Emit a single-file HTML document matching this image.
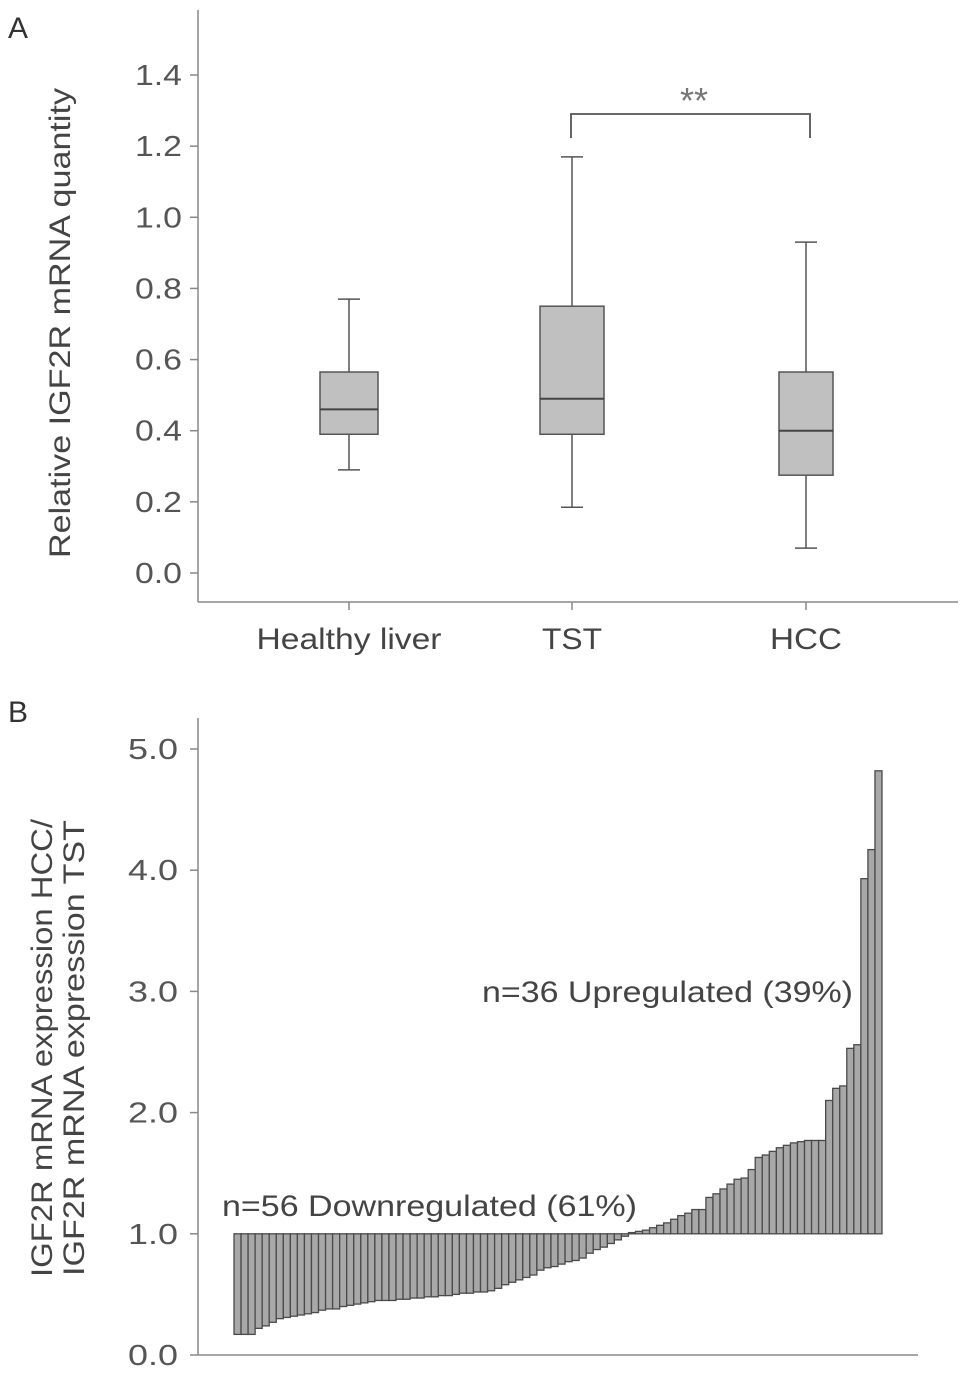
<!DOCTYPE html>
<html><head><meta charset="utf-8"><style>
html,body{margin:0;padding:0;background:#fff}
svg{display:block;font-family:"Liberation Sans",Arial,sans-serif}
</style></head><body>
<svg id="chart" width="969" height="1378" viewBox="0 0 969 1378">
<text x="8" y="38" font-size="30" fill="#333">A</text>
<text x="8" y="722" font-size="30" fill="#333">B</text>
<g id="pa"></g>
<g id="pb"></g>
</svg>
<script>
const NS="http://www.w3.org/2000/svg";
function mk(parent,tag,attrs,text){const e=document.createElementNS(NS,tag);for(const k in attrs)e.setAttribute(k,attrs[k]);if(text!==undefined)e.textContent=text;parent.appendChild(e);return e;}

// Panel A data
const groups=["Healthy liver","TST","HCC"];
const wMin=[0.29,0.185,0.07];
const q1=[0.39,0.39,0.275];
const med=[0.46,0.49,0.40];
const q3=[0.565,0.75,0.565];
const wMax=[0.77,1.17,0.93];
const aTicks=[0.0,0.2,0.4,0.6,0.8,1.0,1.2,1.4];

// Panel B data
const ratios=[0.17,0.17,0.17,0.22,0.24,0.27,0.30,0.31,0.32,0.33,0.34,0.35,0.37,0.38,0.38,0.40,0.41,0.42,0.43,0.44,0.45,0.45,0.45,0.46,0.46,0.47,0.47,0.48,0.48,0.49,0.49,0.50,0.51,0.51,0.52,0.52,0.53,0.55,0.58,0.60,0.62,0.64,0.66,0.70,0.72,0.73,0.75,0.77,0.78,0.80,0.84,0.87,0.89,0.92,0.95,0.98,
1.01,1.02,1.03,1.05,1.07,1.09,1.12,1.15,1.17,1.20,1.20,1.30,1.33,1.37,1.41,1.45,1.46,1.53,1.63,1.65,1.68,1.71,1.73,1.75,1.76,1.77,1.77,1.77,2.10,2.20,2.22,2.53,2.56,3.93,4.17,4.82];
const bTicks=[0.0,1.0,2.0,3.0,4.0,5.0];

const ax="#888",tc="#555";
const LA='spacingAndGlyphs';
// ---- Panel A ----
const pa=document.getElementById('pa');
const yA=v=>573-v*(573-75)/1.4;
const xA=i=>[349,572,806][i];
const hwA=[29,32,27];
let e;
e=mk(pa,'line',{x1:198,y1:10,x2:198,y2:602,stroke:ax,'stroke-width':1.5});

e=mk(pa,'line',{x1:198,y1:602,x2:958,y2:602,stroke:ax,'stroke-width':1.5});

aTicks.forEach(t=>{
  mk(pa,'line',{x1:190,y1:yA(t),x2:198,y2:yA(t),stroke:ax,'stroke-width':1.5});
  e=mk(pa,'text',{x:135,y:yA(t)+10,'font-size':29,fill:tc,textLength:47,lengthAdjust:LA},t.toFixed(1));
  
});
const xlW=[185,60,72];
groups.forEach((g,i)=>{
  const cx=xA(i),hw=hwA[i];
  mk(pa,'line',{x1:cx,y1:602,x2:cx,y2:610,stroke:ax,'stroke-width':1.5});
  e=mk(pa,'text',{x:cx-xlW[i]/2,y:649,'font-size':30,fill:'#444',textLength:xlW[i],lengthAdjust:LA},g);
  
  const gb=mk(pa,'g',{});
  
  mk(gb,'line',{x1:cx,y1:yA(wMax[i]),x2:cx,y2:yA(wMin[i]),stroke:'#555','stroke-width':1.5});
  mk(gb,'line',{x1:cx-11,y1:yA(wMax[i]),x2:cx+11,y2:yA(wMax[i]),stroke:'#555','stroke-width':1.5});
  mk(gb,'line',{x1:cx-11,y1:yA(wMin[i]),x2:cx+11,y2:yA(wMin[i]),stroke:'#555','stroke-width':1.5});
  mk(gb,'rect',{x:cx-hw,y:yA(q3[i]),width:hw*2,height:yA(q1[i])-yA(q3[i]),fill:'#c0c0c0',stroke:'#555','stroke-width':1.5});
  mk(gb,'line',{x1:cx-hw,y1:yA(med[i]),x2:cx+hw,y2:yA(med[i]),stroke:'#444','stroke-width':2});
});
e=mk(pa,'path',{d:'M571 138 V114 H810 V138',fill:'none',stroke:'#555','stroke-width':1.8});

e=mk(pa,'text',{x:694,y:113,'font-size':36,fill:'#777','text-anchor':'middle'},'**');

e=mk(pa,'text',{transform:'translate(70,323) rotate(-90)','font-size':30,fill:'#444',x:-235,textLength:470,lengthAdjust:LA},'Relative IGF2R mRNA quantity');


// ---- Panel B ----
const pb=document.getElementById('pb');
const yB=v=>1355-v*(1355-749)/5;
const x0=234,x1=882,bw=(x1-x0)/ratios.length;
e=mk(pb,'line',{x1:198,y1:718,x2:198,y2:1355,stroke:ax,'stroke-width':1.5});

e=mk(pb,'line',{x1:198,y1:1355,x2:918,y2:1355,stroke:ax,'stroke-width':1.5});

bTicks.forEach(t=>{
  mk(pb,'line',{x1:190,y1:yB(t),x2:198,y2:yB(t),stroke:ax,'stroke-width':1.5});
  e=mk(pb,'text',{x:128,y:yB(t)+10,'font-size':29,fill:tc,textLength:50,lengthAdjust:LA},t.toFixed(1));
  
});
ratios.forEach((v,i)=>{
  const top=Math.min(yB(v),yB(1)),h=Math.abs(yB(v)-yB(1));
  e=mk(pb,'rect',{x:x0+i*bw,y:top,width:bw,height:Math.max(h,0.8),fill:'#a8a8a8',stroke:'#4a4a4a','stroke-width':1.3});
  
});
e=mk(pb,'text',{x:222,y:1216,'font-size':30,fill:'#444',textLength:415,lengthAdjust:LA},'n=56 Downregulated (61%)');

e=mk(pb,'text',{x:482,y:1002,'font-size':30,fill:'#444',textLength:371,lengthAdjust:LA},'n=36 Upregulated (39%)');

e=mk(pb,'text',{transform:'translate(52,1048) rotate(-90)','font-size':30,fill:'#444',x:-229,textLength:458,lengthAdjust:LA},'IGF2R mRNA expression HCC/');

e=mk(pb,'text',{transform:'translate(84,1048) rotate(-90)','font-size':30,fill:'#444',x:-228,textLength:456,lengthAdjust:LA},'IGF2R mRNA expression TST');

</script>
</body></html>
